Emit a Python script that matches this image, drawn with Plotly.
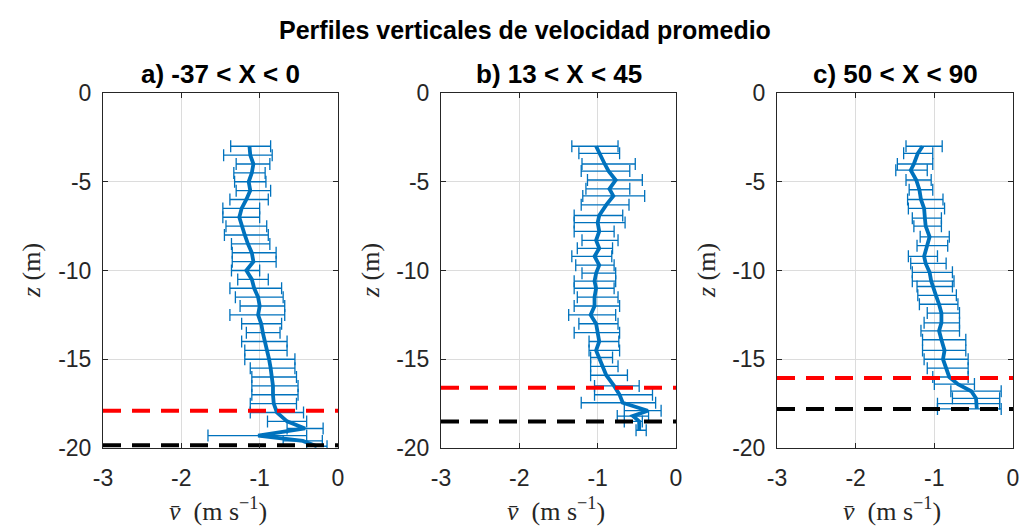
import plotly.graph_objects as go

# ---------------- data ----------------
panel_titles = ["a) -37 < X < 0", "b) 13 < X < 45", "c) 50 < X < 90"]
main_title = "Perfiles verticales de velocidad promedio"

x_tickvals = [-3, -2, -1, 0]
x_ticktext = ["-3", "-2", "-1", "0"]
y_tickvals = [0, -5, -10, -15, -20]
y_ticktext = ["0", "-5", "-10", "-15", "-20"]
x_range = [-3, 0]
y_range = [-20, 0]

# panel a
za = [-3, -3.5, -4, -4.5, -5, -5.5, -6, -6.5, -7, -7.5, -8, -8.5, -9, -9.5, -10, -10.5, -11,
      -11.5, -12, -12.5, -13, -13.5, -14, -14.5, -15, -15.5, -16, -16.5, -17, -17.5, -18, -18.5,
      -18.9, -19.3, -19.6, -19.9]
va = [-1.13, -1.12, -1.08, -1.10, -1.14, -1.12, -1.17, -1.23, -1.26, -1.23, -1.19, -1.15, -1.10, -1.08,
      -1.17, -1.10, -1.07, -1.02, -1.00, -1.02, -0.98, -0.96, -0.93, -0.91, -0.88, -0.86, -0.84, -0.83,
      -0.83, -0.82, -0.78, -0.65, -0.42, -1.02, -0.45, -0.27]
lo_a = [-1.37, -1.46, -1.30, -1.33, -1.32, -1.30, -1.38, -1.47, -1.47, -1.43, -1.45, -1.36, -1.35, -1.35,
        -1.36, -1.28, -1.38, -1.31, -1.25, -1.38, -1.23, -1.17, -1.23, -1.19, -1.19, -1.12, -1.10, -1.10,
        -1.10, -1.12, -1.12, -0.90, -0.65, -1.66, -0.70, -0.40]
hi_a = [-0.86, -0.84, -0.87, -0.93, -0.92, -0.86, -0.89, -1.00, -1.00, -0.91, -0.89, -0.87, -0.79, -0.79,
        -1.00, -0.89, -0.72, -0.70, -0.68, -0.68, -0.72, -0.74, -0.65, -0.65, -0.55, -0.55, -0.53, -0.51,
        -0.51, -0.53, -0.44, -0.40, -0.19, -0.40, -0.20, -0.14]

# panel b
zb = [-3, -3.4, -4, -4.4, -4.9, -5.4, -5.8, -6.3, -6.9, -7.3, -7.8, -8.3, -8.75, -9.2, -9.7, -10.15,
      -10.6, -11, -11.5, -12, -12.5, -13, -13.5, -14, -14.5, -14.9, -15.4, -15.9, -16.5, -17, -17.45,
      -17.9, -18.2, -18.5, -19.0]
vb = [-1.02, -0.98, -0.91, -0.86, -0.77, -0.85, -0.80, -0.89, -0.98, -1.00, -0.98, -1.02, -0.98, -1.04,
      -0.98, -1.02, -1.04, -1.02, -1.04, -1.04, -1.09, -1.02, -1.00, -0.98, -1.02, -0.98, -0.94, -0.89,
      -0.79, -0.72, -0.68, -0.36, -0.55, -0.47, -0.47]
lo_b = [-1.33, -1.24, -1.20, -1.21, -1.13, -1.15, -1.19, -1.21, -1.30, -1.30, -1.30, -1.20, -1.26, -1.33,
        -1.28, -1.20, -1.30, -1.30, -1.26, -1.30, -1.37, -1.24, -1.30, -1.11, -1.11, -1.09, -1.09, -1.09,
        -1.04, -1.04, -1.21, -0.66, -0.75, -0.66, -0.51]
hi_b = [-0.74, -0.72, -0.52, -0.59, -0.43, -0.59, -0.40, -0.60, -0.68, -0.65, -0.79, -0.74, -0.81, -0.82,
        -0.79, -0.77, -0.77, -0.79, -0.74, -0.72, -0.77, -0.74, -0.72, -0.73, -0.72, -0.81, -0.74, -0.62,
        -0.47, -0.30, -0.26, -0.19, -0.35, -0.43, -0.38]

# panel c
zc = [-3, -3.4, -4, -4.35, -4.9, -5.45, -6, -6.5, -7.05, -7.5, -8.1, -8.6, -9.2, -9.6, -10.1, -10.6,
      -10.9, -11.4, -11.9, -12.4, -12.95, -13.4, -13.9, -14.5, -15, -15.5, -16, -16.4, -16.8, -17.2,
      -17.5, -17.8]
vc = [-1.15, -1.21, -1.26, -1.30, -1.23, -1.19, -1.17, -1.13, -1.12, -1.11, -1.06, -1.09, -1.13, -1.11,
      -1.06, -1.04, -1.02, -0.98, -0.94, -0.91, -0.91, -0.94, -0.91, -0.87, -0.89, -0.85, -0.81, -0.70,
      -0.53, -0.47, -0.46, -0.46]
lo_c = [-1.36, -1.39, -1.47, -1.49, -1.36, -1.32, -1.34, -1.33, -1.28, -1.26, -1.18, -1.22, -1.33, -1.30,
        -1.28, -1.28, -1.22, -1.21, -1.19, -1.09, -1.13, -1.17, -1.15, -1.15, -1.13, -1.09, -1.02, -1.00,
        -0.79, -0.77, -0.96, -0.96]
hi_c = [-0.90, -1.02, -1.02, -1.09, -1.04, -1.02, -0.89, -0.87, -0.91, -0.91, -0.81, -0.83, -0.96, -0.85,
        -0.77, -0.75, -0.77, -0.72, -0.70, -0.68, -0.68, -0.68, -0.60, -0.60, -0.57, -0.57, -0.57, -0.49,
        -0.15, -0.17, -0.17, -0.15]

red_z = [-17.9, -16.6, -16.05]
black_z = [-19.85, -18.5, -17.8]

# ---------------- styling ----------------
W, H = 1036, 529
blue = "#0072BD"
x_px = [(103, 338), (441, 676), (777, 1013)]
y_px = (93, 448)
ylab_px = [31, 370, 706]
sans = "Liberation Sans, Arial, Helvetica"
serif = "Liberation Serif, DejaVu Serif, serif"

fig = go.Figure()
profiles = [(za, va, lo_a, hi_a), (zb, vb, lo_b, hi_b), (zc, vc, lo_c, hi_c)]

for i, (z, v, lo, hi) in enumerate(profiles):
    sfx = "" if i == 0 else str(i + 1)
    xa, ya = "x" + sfx, "y" + sfx
    plus = [h - m for h, m in zip(hi, v)]
    minus = [m - l for m, l in zip(v, lo)]
    fig.add_trace(go.Scatter(
        x=v, y=z, mode="lines", xaxis=xa, yaxis=ya,
        line=dict(color=blue, width=3.8),
        error_x=dict(type="data", array=plus, arrayminus=minus, symmetric=False,
                     color=blue, thickness=1.3, width=6),
        showlegend=False, hoverinfo="skip"))
    fig.add_trace(go.Scatter(
        x=x_range, y=[red_z[i]] * 2, mode="lines", xaxis=xa, yaxis=ya,
        line=dict(color="#FF0000", width=4, dash="18px,11px"), showlegend=False))
    fig.add_trace(go.Scatter(
        x=x_range, y=[black_z[i]] * 2, mode="lines", xaxis=xa, yaxis=ya,
        line=dict(color="#000000", width=4, dash="18px,11px"), showlegend=False))

axis_common = dict(showgrid=True, gridcolor="#DCDCDC", gridwidth=1, zeroline=False,
                   showline=True, linecolor="#262626", linewidth=1, mirror="ticks",
                   ticks="inside", ticklen=5, tickcolor="#262626", automargin=False,
                   tickfont=dict(family=sans, size=23, color="#262626"))

layout = dict(width=W, height=H, margin=dict(l=0, r=0, t=0, b=0, pad=0, autoexpand=False),
              paper_bgcolor="white", plot_bgcolor="white", annotations=[])
ytop = 1 - y_px[0] / H
ybot = 1 - y_px[1] / H
for i in range(3):
    sfx = "" if i == 0 else str(i + 1)
    layout["xaxis" + sfx] = dict(axis_common, domain=[x_px[i][0] / W, x_px[i][1] / W],
                                 range=x_range, tickvals=x_tickvals, ticktext=x_ticktext,
                                 anchor="y" + sfx, ticklabelstandoff=9)
    layout["yaxis" + sfx] = dict(axis_common, domain=[ybot, ytop], range=y_range,
                                 tickvals=y_tickvals, ticktext=y_ticktext,
                                 anchor="x" + sfx, ticklabelstandoff=6)
    cx = (x_px[i][0] + x_px[i][1]) / 2 / W
    layout["annotations"].append(dict(
        text="<b>" + panel_titles[i] + "</b>", x=cx, y=1 - 74 / H, xref="paper", yref="paper",
        xanchor="center", yanchor="middle", showarrow=False,
        font=dict(family=sans, size=26, color="black")))
    layout["annotations"].append(dict(
        text="<i>v\u0304</i>\u00a0\u00a0(m\u00a0s<sup>\u22121</sup>)", x=(cx * W - 3) / W,
        y=1 - 509 / H, xref="paper", yref="paper",
        xanchor="center", yanchor="middle", showarrow=False,
        font=dict(family=serif, size=26, color="#262626")))
    layout["annotations"].append(dict(
        text="<i>z</i>\u00a0(m)", x=ylab_px[i] / W, y=1 - 271 / H, xref="paper", yref="paper",
        xanchor="center", yanchor="middle", showarrow=False, textangle=-90,
        font=dict(family=serif, size=26, color="#262626")))

layout["annotations"].append(dict(
    text="<b>" + main_title + "</b>", x=525 / W, y=1 - 30 / H, xref="paper", yref="paper",
    xanchor="center", yanchor="middle", showarrow=False,
    font=dict(family=sans, size=25, color="black")))

fig.update_layout(**layout)
fig.write_html("out.html",
               post_script="document.body.style.margin='0';document.body.style.overflow='hidden';")
